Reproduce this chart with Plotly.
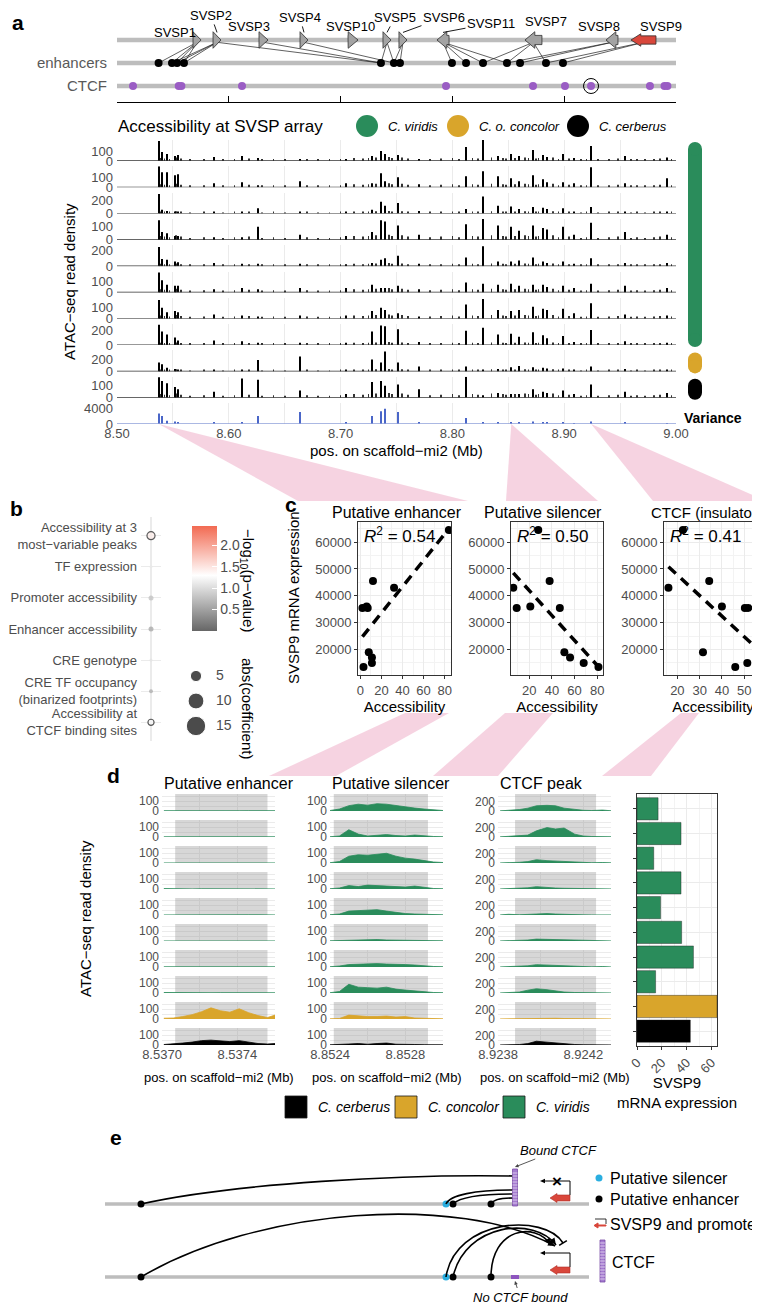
import numpy as np
import plotly.graph_objects as go

W, H = 760, 1305
TXT = "#4D4D4D"
GRID = "#EBEBEB"
GREEN, GOLD, BLACK = "#2A8C5B", "#D9A52B", "#000000"
PURPLE = "#9A5DC4"
RED = "#D9473B"
CYAN = "#2AAEE0"
PINK = "rgba(243, 196, 215, 0.75)"

# ---------------- panel a: SVSP array ----------------
gene_names = ["SVSP1", "SVSP2", "SVSP3", "SVSP4", "SVSP10", "SVSP5", "SVSP6",
              "SVSP11", "SVSP7", "SVSP8", "SVSP9"]
gene_start = [8.5680, 8.5859, 8.6270, 8.6637, 8.7066, 8.7379, 8.7522,
              8.7862, 8.8649, 8.9374, 8.9597]
gene_end = [8.5752, 8.5930, 8.6351, 8.6708, 8.7156, 8.7451, 8.7594,
            8.7970, 8.8801, 8.9481, 8.9821]
gene_strand = [1, 1, 1, 1, 1, 1, 1, -1, -1, -1, -1]
enhancer_pos = [8.5372, 8.5492, 8.5537, 8.5599, 8.7361, 8.7477, 8.7531,
                8.7996, 8.8122, 8.8274, 8.8488, 8.8605, 8.8837, 8.8989]
gene_enhancer_links = [
    ("SVSP1", 0), ("SVSP1", 1), ("SVSP1", 2), ("SVSP1", 3),
    ("SVSP2", 1), ("SVSP2", 2), ("SVSP2", 3), ("SVSP2", 4),
    ("SVSP3", 4), ("SVSP4", 5),
    ("SVSP5", 4), ("SVSP5", 5), ("SVSP6", 5), ("SVSP6", 6),
    ("SVSP11", 7), ("SVSP11", 8), ("SVSP11", 9), ("SVSP11", 10),
    ("SVSP7", 9), ("SVSP7", 10), ("SVSP7", 12),
    ("SVSP8", 10), ("SVSP8", 11),
    ("SVSP9", 12), ("SVSP9", 13),
]
ctcf_pos = [8.5143, 8.5552, 8.5576, 8.6118, 8.7943, 8.8721, 8.9007, 8.9240,
            8.9767, 8.9897, 8.9923]
bound_ctcf_pos = 8.9240

# ATAC peaks (Mb) and per-track heights
peak_pos = [8.5372, 8.5406, 8.5450, 8.5516, 8.5550, 8.5867, 8.6116, 8.6260,
            8.6634, 8.7050, 8.7280, 8.7357, 8.7400, 8.7510, 8.7700, 8.8125,
            8.8278, 8.8410, 8.8526, 8.8600, 8.8717, 8.8810, 8.8846, 8.8990,
            8.9090, 8.9240, 8.9540, 8.9920]
sig_v1 = [200, 90, 70, 50, 60, 40, 50, 30, 20, 20, 50, 100, 70, 60, 20, 140, 210, 50, 70, 50, 110, 60, 40, 70, 30, 150, 50, 35]
sig_v2 = [210, 150, 150, 120, 130, 40, 50, 20, 60, 40, 40, 140, 60, 100, 30, 110, 160, 110, 90, 60, 120, 80, 50, 50, 40, 200, 40, 90]
sig_v3 = [300, 60, 40, 20, 20, 30, 30, 80, 30, 30, 60, 180, 120, 160, 40, 70, 260, 120, 110, 70, 100, 90, 70, 80, 30, 100, 20, 30]
sig_v4 = [150, 60, 50, 30, 30, 20, 20, 100, 40, 30, 60, 150, 140, 110, 40, 120, 160, 110, 100, 70, 110, 90, 80, 100, 40, 130, 60, 40]
sig_v5 = [240, 90, 80, 60, 50, 40, 30, 30, 30, 20, 40, 80, 100, 130, 30, 110, 250, 60, 60, 70, 110, 60, 40, 60, 30, 100, 40, 40]
sig_v6 = [180, 110, 70, 60, 60, 30, 40, 30, 40, 40, 70, 40, 40, 60, 30, 90, 80, 70, 80, 60, 70, 70, 50, 60, 40, 80, 60, 40]
sig_v7 = [170, 100, 60, 70, 60, 40, 30, 20, 30, 30, 70, 100, 80, 50, 20, 130, 180, 80, 70, 80, 110, 90, 80, 90, 50, 140, 40, 30]
sig_v8 = [270, 180, 140, 100, 60, 60, 50, 30, 30, 30, 180, 260, 250, 210, 40, 190, 230, 140, 150, 110, 170, 130, 90, 120, 40, 200, 50, 30]
sig_concolor = [150, 120, 60, 40, 30, 20, 30, 190, 250, 30, 200, 150, 330, 150, 80, 80, 20, 40, 70, 90, 70, 60, 50, 50, 30, 80, 40, 30]
sig_cerberus = [170, 140, 120, 90, 70, 50, 160, 150, 60, 30, 130, 140, 100, 110, 70, 175, 20, 40, 30, 30, 70, 50, 40, 60, 30, 110, 50, 40]
sig_variance = [2600, 2000, 800, 600, 400, 300, 400, 2000, 3000, 300, 2000, 3200, 3800, 3000, 400, 1500, 300, 300, 500, 400, 600, 500, 300, 400, 200, 600, 300, 200]
track_signals = [sig_v1, sig_v2, sig_v3, sig_v4, sig_v5, sig_v6, sig_v7, sig_v8,
                 sig_concolor, sig_cerberus, sig_variance]
track_tick = [100, 100, 200, 100, 200, 100, 100, 200, 200, 100, 4000]
# small background peaks shared by the ten sample tracks (reads)
minor_peak_pos = [8.5385, 8.5425, 8.5470, 8.5530, 8.5575, 8.5650, 8.5780, 8.5950,
                  8.6050, 8.6180, 8.6300, 8.6400, 8.6500, 8.6700, 8.6800, 8.6900,
                  8.7000, 8.7120, 8.7200, 8.7250, 8.7320, 8.7430, 8.7460, 8.7550,
                  8.7600, 8.7800, 8.7900, 8.8000, 8.8060, 8.8180, 8.8230, 8.8350,
                  8.8450, 8.8480, 8.8560, 8.8650, 8.8680, 8.8750, 8.8770, 8.8900,
                  8.8950, 8.9040, 8.9150, 8.9200, 8.9300, 8.9400, 8.9480, 8.9600,
                  8.9650, 8.9720, 8.9800, 8.9860, 8.9960]
minor_peak_reads = [30, 25, 20, 35, 25, 15, 20, 15, 20, 25, 15, 20, 15, 20, 15, 15,
                    20, 30, 25, 30, 35, 40, 30, 35, 25, 20, 25, 30, 20, 30, 25, 35,
                    30, 25, 30, 35, 30, 25, 30, 35, 20, 25, 15, 20, 15, 20, 25, 15,
                    20, 15, 20, 25, 20]
species_top = ["C. viridis", "C. o. concolor", "C. cerberus"]

# ---------------- panel b ----------------
b_rows = ["Accessibility at 3<br>most\u2212variable peaks", "TF expression",
          "Promoter accessibility", "Enhancer accessibility", "CRE genotype",
          "CRE TF occupancy<br>(binarized footprints)",
          "Accessibility at<br>CTCF binding sites"]
b_neglog10p = [1.45, 1.10, 0.75, 0.50, 1.05, 0.55, 1.25]
b_abs_coef = [2.6, 0.36, 1.0, 1.0, 0.36, 0.64, 1.5]
b_outlined = [True, False, False, False, False, False, True]
b_size_legend = [5, 10, 15]

# ---------------- panels c / d ----------------
sample_species = ["viridis"] * 8 + ["concolor", "cerberus"]
svsp9_expr = [17000, 35500, 13500, 35500, 19000, 36000, 45500, 15000, 64500, 43000]
acc_enhancer = [11, 2, 3, 7, 8, 6, 12, 11, 84, 32]
acc_silencer = [56, 9, 81, 47, 51, 21, 38, 68, 28, 6]
acc_ctcf = [56, 50.3, 46, 51.8, 31.5, 40, 34.3, 51.4, 22.5, 16]
c_titles = ["Putative enhancer", "Putative silencer", "CTCF (insulator)"]
r2_labels = ["0.54", "0.50", "0.41"]

enh_x = [8.53701, 8.53706, 8.53711, 8.53716, 8.53721, 8.53726, 8.53731,
         8.53736, 8.53741, 8.53746, 8.53751, 8.53756, 8.53760]
sil_x = [8.85240, 8.85245, 8.85250, 8.85255, 8.85260, 8.85265, 8.85270,
         8.85275, 8.85280, 8.85285, 8.85290, 8.85295, 8.85300]
ctcf_x = [8.92381, 8.92385, 8.92390, 8.92394, 8.92398, 8.92403, 8.92407,
          8.92411, 8.92416, 8.92420, 8.92424, 8.92429, 8.92433]
enh_profiles = [
    [3, 2, 3, 4, 3, 2, 4, 3, 2, 3, 2, 2, 3],
    [2, 2, 3, 2, 4, 3, 5, 4, 2, 3, 2, 3, 2],
    [1, 1, 2, 1, 3, 1, 2, 3, 1, 1, 1, 1, 1],
    [4, 1, 1, 1, 2, 1, 1, 1, 2, 1, 1, 1, 1],
    [1, 2, 2, 1, 3, 2, 2, 3, 1, 2, 2, 2, 1],
    [1, 1, 1, 1, 1, 1, 1, 2, 1, 1, 1, 1, 1],
    [2, 2, 2, 3, 4, 3, 6, 3, 2, 2, 2, 2, 2],
    [5, 3, 2, 2, 3, 2, 3, 4, 2, 2, 3, 2, 2],
    [8, 10, 25, 45, 75, 115, 85, 70, 105, 65, 35, 15, 40],
    [5, 10, 20, 30, 45, 50, 40, 35, 45, 30, 15, 10, 15],
]
sil_profiles = [
    [5, 20, 55, 70, 60, 75, 70, 55, 40, 30, 20, 10, 5],
    [3, 10, 75, 30, 10, 20, 25, 15, 10, 20, 10, 5, 3],
    [3, 15, 70, 85, 80, 90, 100, 70, 50, 40, 25, 10, 5],
    [3, 10, 35, 25, 40, 35, 30, 25, 20, 30, 15, 5, 3],
    [3, 10, 40, 45, 45, 55, 40, 25, 15, 10, 5, 3, 2],
    [2, 5, 10, 8, 10, 15, 10, 8, 6, 5, 3, 2, 2],
    [3, 10, 25, 30, 30, 35, 30, 30, 25, 20, 10, 5, 3],
    [3, 15, 90, 60, 55, 50, 60, 40, 30, 20, 10, 5, 3],
    [2, 5, 40, 30, 25, 25, 30, 20, 25, 10, 5, 3, 2],
    [2, 3, 10, 15, 8, 15, 20, 8, 10, 5, 3, 2, 2],
]
ctcf_profiles = [
    [3, 10, 30, 60, 110, 120, 110, 60, 30, 15, 10, 20, 5],
    [3, 10, 25, 40, 130, 200, 170, 190, 60, 20, 10, 15, 5],
    [2, 5, 15, 30, 70, 50, 40, 30, 15, 10, 5, 10, 3],
    [2, 5, 10, 25, 50, 30, 20, 15, 10, 5, 3, 5, 2],
    [2, 15, 5, 10, 25, 30, 20, 10, 5, 3, 2, 3, 2],
    [2, 5, 10, 20, 40, 35, 25, 15, 10, 5, 3, 5, 2],
    [2, 5, 10, 25, 50, 40, 30, 15, 10, 5, 3, 10, 2],
    [2, 5, 20, 60, 90, 70, 40, 20, 10, 5, 3, 5, 2],
    [2, 5, 15, 20, 20, 15, 15, 10, 8, 5, 3, 3, 2],
    [2, 5, 10, 30, 80, 60, 45, 20, 10, 5, 3, 8, 2],
]
peak_regions = [(8.53707, 8.53756), (8.85242, 8.85292), (8.92388, 8.92426)]
d_titles = ["Putative enhancer", "Putative silencer", "CTCF peak"]
d_legend = [("C. cerberus", BLACK), ("C. concolor", GOLD), ("C. viridis", GREEN)]

species_color = {"viridis": GREEN, "concolor": GOLD, "cerberus": BLACK}

# ---------------- helpers ----------------
fig = go.Figure()
shapes, annos, axes = [], [], {}
n_ax = [0]


def X(p):
    return p / W


def Y(p):
    return 1 - p / H


def add_axes(x0, x1, y0, y1, xa, ya):
    n_ax[0] += 1
    s = "" if n_ax[0] == 1 else str(n_ax[0])
    base = dict(showgrid=False, zeroline=False, ticks="", fixedrange=True)
    axes["xaxis" + s] = {**base, **dict(domain=[X(x0), X(x1)], anchor="y" + s), **xa}
    axes["yaxis" + s] = {**base, **dict(domain=[Y(y1), Y(y0)], anchor="x" + s), **ya}
    return "x" + s, "y" + s


def text(x, y, t, size=13, color="black", xanchor="center", yanchor="middle", angle=0):
    annos.append(dict(x=X(x), y=Y(y), xref="paper", yref="paper", text=t,
                      showarrow=False, font=dict(size=size, color=color),
                      xanchor=xanchor, yanchor=yanchor, textangle=angle))


def poly_path(pts, paper=True):
    if paper:
        pts = [(X(a), Y(b)) for a, b in pts]
    return "M " + " L ".join(f"{a:.5f},{b:.5f}" for a, b in pts) + " Z"


def circle(cx, cy, d, color, line=None):
    shapes.append(dict(type="circle", xref="paper", yref="paper",
                       x0=X(cx - d / 2), x1=X(cx + d / 2), y0=Y(cy + d / 2), y1=Y(cy - d / 2),
                       fillcolor=color, line=dict(width=0.8 if line else 0, color=line or color)))


def ribbon(pts):
    shapes.append(dict(type="path", xref="paper", yref="paper", layer="below",
                       path=poly_path(pts), fillcolor=PINK, line=dict(width=0)))


# panel labels
for lab, (lx, ly) in zip("abcde", [(10, 15), (8, 500), (283, 497), (105, 767), (108, 1129)]):
    text(lx, ly, f"<b>{lab}</b>", size=21)

# ---------------- panel a: gene / enhancer / CTCF ----------------
A_X0, A_X1 = 109, 668


def mb_px(mb):
    return A_X0 + (mb - 8.5) / 0.5 * (A_X1 - A_X0)


gx, gy = add_axes(A_X0, A_X1, 20.5, 94.1,
                  dict(range=[8.5, 9.0], showline=True, linecolor="black", linewidth=1,
                       ticks="inside", ticklen=6, tickcolor="black",
                       tickvals=[8.5, 8.6, 8.7, 8.8, 8.9, 9.0], showticklabels=False),
                  dict(range=[2.7, -0.5], tickvals=[1, 2], ticktext=["enhancers", "CTCF"],
                       tickfont=dict(size=15, color="#595959"), ticklabelstandoff=9))
for r in range(3):
    shapes.append(dict(type="line", xref=f"{gx} domain", yref=gy, x0=0, x1=1, y0=r, y1=r,
                       line=dict(color="#BDBDBD", width=4.5), layer="below"))

center = {g: (s + e) / 2 for g, s, e in zip(gene_names, gene_start, gene_end)}
lx, ly = [], []
for g, k in gene_enhancer_links:
    lx += [center[g], enhancer_pos[k], None]
    ly += [0.1, 1, None]
fig.add_scatter(x=lx, y=ly, mode="lines", line=dict(color="rgba(30,30,30,0.7)", width=1),
                xaxis=gx, yaxis=gy, hoverinfo="skip")

for g, s, e, st in zip(gene_names, gene_start, gene_end, gene_strand):
    red = g == "SVSP9"
    head = min(e - s, 0.0088)
    hh, hb = (0.27, 0.18) if red else (0.36, 0.2)
    if st > 0:
        xs = [s, e - head, e - head, e, e - head, e - head, s, s]
    else:
        xs = [e, s + head, s + head, s, s + head, s + head, e, e]
    ys = [-hb, -hb, -hh, 0, hh, hb, hb, -hb]
    fig.add_scatter(x=xs, y=ys, mode="lines", fill="toself",
                    fillcolor=RED if red else "#A3A3A3",
                    line=dict(color="#2F2F2F", width=0.8), xaxis=gx, yaxis=gy, hoverinfo="skip")

fig.add_scatter(x=enhancer_pos, y=[1] * len(enhancer_pos), mode="markers",
                marker=dict(size=8, color="black"), xaxis=gx, yaxis=gy)
fig.add_scatter(x=ctcf_pos, y=[2] * len(ctcf_pos), mode="markers",
                marker=dict(size=8, color=PURPLE), xaxis=gx, yaxis=gy)
fig.add_scatter(x=[bound_ctcf_pos], y=[2], mode="markers",
                marker=dict(size=15, color="rgba(0,0,0,0)", line=dict(color="black", width=1)),
                xaxis=gx, yaxis=gy)

# gene labels: (ax, ay) leader offsets or (xshift, yshift) plain offsets
label_leader = {"SVSP2": (-6, -17), "SVSP4": (-4, -15), "SVSP5": (8, -15),
                "SVSP6": (41, -15), "SVSP11": (48, -9)}
label_shift = {"SVSP1": (-22, 8), "SVSP3": (-15, 14), "SVSP10": (-3, 14),
               "SVSP7": (13, 19), "SVSP8": (-13, 14), "SVSP9": (18, 14)}
for g in gene_names:
    if g in label_leader:
        ax_, ay_ = label_leader[g]
        annos.append(dict(x=center[g], y=-0.33, xref=gx, yref=gy, text=g, showarrow=True,
                          arrowhead=0, arrowwidth=0.9, arrowcolor="black", ax=ax_, ay=ay_,
                          font=dict(size=13, color="black")))
    else:
        xs_, ys_ = label_shift[g]
        annos.append(dict(x=center[g], y=0, xref=gx, yref=gy, text=g, showarrow=False,
                          xshift=xs_, yshift=ys_, font=dict(size=13, color="black")))

# ---------------- panel a: ATAC tracks ----------------
text(108, 118, "Accessibility at SVSP array", size=17, xanchor="left")
for name, col, cx in zip(species_top, [GREEN, GOLD, BLACK], [359, 450, 570]):
    circle(cx, 118, 22, col)
    text(cx + 19, 118, f"<i>{name}</i>", size=13, xanchor="left")

track_ymax = [210, 210, 320, 160, 262, 190, 190, 280, 350, 175, 5250]
base_px = [153 + 26.3 * i for i in range(11)]
grid_vals = [8.50, 8.55, 8.60, 8.65, 8.70, 8.75, 8.80, 8.85, 8.90, 8.95, 9.00]
grid_text = ["8.50", "", "8.60", "", "8.70", "", "8.80", "", "8.90", "", "9.00"]
for i, sig in enumerate(track_signals):
    b = base_px[i]
    col = "#4A66C8" if i == 10 else "black"
    tx, ty = add_axes(A_X0, A_X1, b - 21, b,
                      dict(range=[8.5, 9.0], tickvals=grid_vals, ticktext=grid_text,
                           showgrid=True, gridcolor=GRID, gridwidth=1,
                           showticklabels=(i == 10), tickfont=dict(size=13, color=TXT)),
                      dict(range=[0, track_ymax[i]], tickvals=[0, track_tick[i]],
                           tickfont=dict(size=13, color=TXT), ticklabelstandoff=3))
    if i < 10:
        fig.add_bar(x=minor_peak_pos, y=minor_peak_reads, width=0.0007,
                    marker=dict(color="#333333", line=dict(width=0)), xaxis=tx, yaxis=ty)
    fig.add_bar(x=peak_pos, y=sig, width=0.0009, marker=dict(color=col, line=dict(width=0)),
                xaxis=tx, yaxis=ty)
    shapes.append(dict(type="line", xref=f"{tx} domain", yref=ty, x0=0, x1=1, y0=0, y1=0,
                       line=dict(color="#333333" if i < 10 else "#8FA0DA", width=1.3)))

text(388, 442, "pos. on scaffold\u2212mi2 (Mb)", size=15)
text(62, 274, "ATAC\u2212seq read density", size=15, angle=-90)

# variance pills
for rows, col in [(range(0, 8), GREEN), (range(8, 9), GOLD), (range(9, 10), BLACK)]:
    top, bot = base_px[rows[0]] - 19, base_px[rows[-1]] + 2
    shapes.append(dict(type="rect", xref="paper", yref="paper", x0=X(680), x1=X(694),
                       y0=Y(bot - 7), y1=Y(top + 7), fillcolor=col, line=dict(width=0)))
    circle(687, top + 7, 14, col)
    circle(687, bot - 7, 14, col)
text(705, 410, "<b>Variance</b>", size=14)

# ---------------- panel b ----------------
bxa, bya = add_axes(133, 153, 509, 733,
                    dict(range=[-1, 1], zeroline=True, zerolinecolor=GRID, zerolinewidth=1.5,
                         showticklabels=False),
                    dict(range=[6.6, -0.6], tickvals=list(range(7)), ticktext=b_rows,
                         showgrid=True, gridcolor=GRID, tickfont=dict(size=13, color=TXT),
                         ticklabelstandoff=3))
fig.add_scatter(
    x=[0] * 7, y=list(range(7)), mode="markers", xaxis=bxa, yaxis=bya,
    marker=dict(size=[5 * np.sqrt(c) for c in b_abs_coef], color=b_neglog10p,
                colorscale=[[0, "#666666"], [0.53, "#FFFFFF"], [1, "#F26A52"]],
                cmin=0, cmax=2.45,
                line=dict(color=["#1A1A1A" if o else "rgba(0,0,0,0)" for o in b_outlined],
                          width=[1.2 if o else 0 for o in b_outlined]),
                colorbar=dict(x=X(174), xanchor="left", y=Y(570.5), yanchor="middle",
                              len=125, lenmode="pixels", thickness=25, outlinewidth=0,
                              tickvals=[0.5, 1, 1.5, 2], ticktext=["0.5", "1.0", "1.5", "2.0"],
                              ticks="inside", ticklen=5, tickcolor="white",
                              tickfont=dict(size=14, color=TXT))))
text(240, 572, "\u2212log<sub>10</sub>(p\u2212value)", size=15, angle=90)
text(240, 700, "abs(coefficient)", size=15, angle=90)
sxa, sya = add_axes(178, 230, 655, 730, dict(range=[0, 52], visible=False),
                    dict(range=[17.4, 2.4], visible=False))
fig.add_scatter(x=[10] * 3, y=b_size_legend, mode="markers", xaxis=sxa, yaxis=sya,
                marker=dict(size=[5 * np.sqrt(v) for v in b_size_legend], color="black"))
fig.add_scatter(x=[30] * 3, y=b_size_legend, mode="text", xaxis=sxa, yaxis=sya,
                text=[str(v) for v in b_size_legend], textposition="middle right",
                textfont=dict(size=14, color=TXT))

# ---------------- panel c ----------------
c_boxes = [(350, 443), (503, 595), (656, 754)]
C_TOP, C_BOT = 514, 667
c_xranges = [[-2.2, 86], [4, 85], [14, 58]]
c_dtick = [20, 20, 10]
acc_sets = [acc_enhancer, acc_silencer, acc_ctcf]
for k in range(3):
    x0, x1 = c_boxes[k]
    frame = dict(showline=True, mirror=True, linecolor="#333333", linewidth=1,
                 ticks="outside", ticklen=3, tickcolor="#333333",
                 tickfont=dict(size=13, color=TXT), showgrid=True, gridcolor=GRID)
    cx, cy = add_axes(x0, x1, C_TOP, C_BOT,
                      dict(range=c_xranges[k], tick0=0, dtick=c_dtick[k],
                           minor=dict(tick0=0, dtick=c_dtick[k] / 2, showgrid=True,
                                      gridcolor="#F3F3F3", gridwidth=0.7),
                           title=dict(text="Accessibility", font=dict(size=15, color="black"),
                                      standoff=2), **frame),
                      dict(range=[10500, 67500], tick0=0, dtick=10000, tickformat="d",
                           minor=dict(tick0=0, dtick=5000, showgrid=True,
                                      gridcolor="#F3F3F3", gridwidth=0.7), **frame))
    acc = acc_sets[k]
    fig.add_scatter(x=acc, y=svsp9_expr, mode="markers", xaxis=cx, yaxis=cy,
                    marker=dict(size=8, color="black"))
    slope, icpt = np.polyfit(acc, svsp9_expr, 1)
    xs = [min(acc), max(acc)]
    fig.add_scatter(x=xs, y=[slope * v + icpt for v in xs], mode="lines", xaxis=cx, yaxis=cy,
                    line=dict(color="black", width=3.5, dash="10px,7px"))
    annos.append(dict(x=0.04, y=0.915, xref=f"{cx} domain", yref=f"{cy} domain",
                      text=f"<i>R</i><sup>2</sup> = {r2_labels[k]}", showarrow=False,
                      xanchor="left", yanchor="middle", font=dict(size=17, color="black")))
text(389, 504, c_titles[0], size=16)
text(535, 504, c_titles[1], size=16)
text(756, 504, c_titles[2], size=15, xanchor="right")
text(285, 590, "SVSP9 mRNA expression", size=15, angle=-90)

# ---------------- panel d ----------------
d_cols = [(154, 267), (322, 435), (490, 603)]
d_ranges = [[8.53700, 8.53760], [8.85240, 8.85300], [8.92380, 8.92433]]
d_tickvals = [[8.5370, 8.5372, 8.5374, 8.5376], [8.8524, 8.8526, 8.8528, 8.8530],
              [8.9238, 8.9240, 8.9242, 8.9244]]
d_ymax = [175, 175, 360]
d_ylab = [100, 100, 200]
D_BASE0, D_STEP, D_H = 803, 26, 17
d_x = [enh_x, sil_x, ctcf_x]
d_profiles = [enh_profiles, sil_profiles, ctcf_profiles]

for c in range(3):
    x0, x1 = d_cols[c]
    tv = d_tickvals[c]
    r0, r1 = peak_regions[c]
    for r in range(10):
        b = D_BASE0 + D_STEP * r
        col = species_color[sample_species[r]]
        yl = d_ylab[c]
        dx, dy = add_axes(x0, x1, b - D_H, b,
                          dict(range=d_ranges[c], tickvals=tv,
                               ticktext=[f"{tv[0]:.4f}", "", f"{tv[2]:.4f}", ""],
                               showgrid=True, gridcolor=GRID, showticklabels=(r == 9),
                               tickfont=dict(size=13, color=TXT)),
                          dict(range=[0, d_ymax[c]], tickvals=[0, yl / 2, yl, yl * 1.5],
                               ticktext=["0", "", str(yl), ""], showgrid=True, gridcolor=GRID,
                               tickfont=dict(size=12, color=TXT), ticklabelstandoff=2))
        # shaded peak region (drawn as a trace so the grid shows through)
        fig.add_scatter(x=[r0, r1, r1, r0, r0], y=[0, 0, d_ymax[c], d_ymax[c], 0],
                        mode="lines", fill="toself", fillcolor="rgba(150,150,150,0.38)",
                        line=dict(width=0), xaxis=dx, yaxis=dy, hoverinfo="skip")
        fig.add_scatter(x=d_x[c], y=d_profiles[c][r], mode="lines", fill="tozeroy",
                        fillcolor=col, line=dict(color=col, width=0.8), xaxis=dx, yaxis=dy)
    text(x0, 775, d_titles[c], size=16, xanchor="left")
    text((x0 + x1) / 2, 1069, "pos. on scaffold\u2212mi2 (Mb)", size=13)
text(77, 911, "ATAC\u2212seq read density", size=15, angle=-90)

# SVSP9 expression bars
qx, qy = add_axes(629, 709, 786, 1038,
                  dict(range=[0, 64.5], tickvals=[0, 20, 40, 60], tickangle=-45,
                       ticks="outside", ticklen=3, tickcolor="#333333",
                       tickfont=dict(size=13, color=TXT), showgrid=True, gridcolor=GRID,
                       minor=dict(tick0=0, dtick=10, showgrid=True, gridcolor="#F3F3F3"),
                       showline=True, mirror=True, linecolor="#333333", linewidth=1),
                  dict(range=[9.6, -0.6], tickvals=list(range(10)), showticklabels=False,
                       ticks="outside", ticklen=3, tickcolor="#333333", showgrid=True,
                       gridcolor=GRID, showline=True, mirror=True, linecolor="#333333",
                       linewidth=1))
fig.add_bar(y=list(range(10)), x=[v / 1000 for v in svsp9_expr], orientation="h", width=0.9,
            marker=dict(color=[species_color[s] for s in sample_species],
                        line=dict(color="#1A1A1A", width=0.4)), xaxis=qx, yaxis=qy)
text(669, 1064, "SVSP9<br>mRNA expression", size=15, yanchor="top")

# d legend
for (name, col), lx0 in zip(d_legend, [277, 387, 495]):
    shapes.append(dict(type="rect", xref="paper", yref="paper", x0=X(lx0), x1=X(lx0 + 22),
                       y0=Y(1110), y1=Y(1088), fillcolor=col,
                       line=dict(color="#1A1A1A", width=0.8)))
    text(lx0 + 31, 1099, f"<i>{name}</i>", size=14, xanchor="left")

# ---------------- pink ribbons a -> c -> d ----------------
# upper: from the peak on the track to the top of each scatter panel
A_BOTTOM = base_px[-1]
upper_target = [(290, 460), (498, 590), (645, 758)]
for k in range(3):
    apex = mb_px(sum(peak_regions[k]) / 2)
    t0, t1 = upper_target[k]
    ribbon([(apex, A_BOTTOM), (t0, 493), (t1, 493)])
# lower: from under each scatter panel to the top of the matching track column
lower_top = [(397, 441), (497, 545), (673, 691)]
lower_bot = [(261, 328), (425, 490), (594, 643)]
for k in range(3):
    (a0, a1), (b0, b1) = lower_top[k], lower_bot[k]
    ribbon([(a0, 705), (a1, 705), (b1, 768), (b0, 768)])

# ---------------- panel e: schematic ----------------
ex, ey = add_axes(97, 760, 1130, 1305, dict(range=[0, 663], visible=False),
                  dict(range=[0, 175], visible=False))
e_track_y = {"bound": 109, "unbound": 36}
e_line_end = 484
e_far, e_sil, e_enh2, e_enh3 = 36, 341, 348, 386
e_ctcf = 410
e_gene = (445, 465)


def ebez(p0, p1, p2, p3, color="black"):
    shapes.append(dict(type="path", xref=ex, yref=ey,
                       path=f"M {p0[0]},{p0[1]} C {p1[0]},{p1[1]} {p2[0]},{p2[1]} {p3[0]},{p3[1]}",
                       line=dict(color=color, width=1.6)))


def ehead(p2, p3, size=7, bar=False):
    dx, dy = p3[0] - p2[0], p3[1] - p2[1]
    L = np.hypot(dx, dy)
    ux, uy = dx / L, dy / L
    nx, ny = -uy, ux
    if bar:
        shapes.append(dict(type="line", xref=ex, yref=ey,
                           x0=p3[0] + nx * 4.5, y0=p3[1] + ny * 4.5,
                           x1=p3[0] - nx * 4.5, y1=p3[1] - ny * 4.5,
                           line=dict(color="black", width=1.6)))
        return
    bx0, by0 = p3[0] - ux * size, p3[1] - uy * size
    pts = [p3, (bx0 + nx * size * 0.45, by0 + ny * size * 0.45),
           (bx0 - nx * size * 0.45, by0 - ny * size * 0.45)]
    shapes.append(dict(type="path", xref=ex, yref=ey, path=poly_path(pts, paper=False),
                       fillcolor="black", line=dict(width=0)))


def ctcf_bar(x0, x1, y0, y1, xref, yref, step):
    shapes.append(dict(type="rect", xref=xref, yref=yref, x0=x0, x1=x1, y0=y0, y1=y1,
                       fillcolor="#A57BD0", line=dict(color="#7A4DA6", width=0.8)))
    yy = y0 + step
    while yy < y1 - step / 2:
        shapes.append(dict(type="line", xref=xref, yref=yref, x0=x0, x1=x1, y0=yy, y1=yy,
                           line=dict(color="rgba(255,255,255,0.75)", width=0.8)))
        yy += step


def gene_arrow(yc):
    g0, g1 = e_gene
    pts = [(g1, yc - 3), (g0 + 7, yc - 3), (g0 + 7, yc - 4.5), (g0, yc), (g0 + 7, yc + 4.5),
           (g0 + 7, yc + 3), (g1, yc + 3)]
    shapes.append(dict(type="path", xref=ex, yref=ey, path=poly_path(pts, paper=False),
                       fillcolor=RED, line=dict(color="#B03028", width=0.6)))
    top = yc + 17
    shapes.append(dict(type="path", xref=ex, yref=ey,
                       path=f"M {g1},{yc + 3} L {g1},{top} L {g0 - 8},{top}",
                       line=dict(color="black", width=1)))
    ehead((g1, top), (g0 - 10, top), size=5)
    return top


for ty_ in e_track_y.values():
    shapes.append(dict(type="line", xref=ex, yref=ey, x0=0, x1=e_line_end, y0=ty_, y1=ty_,
                       line=dict(color="#BDBDBD", width=3.5), layer="below"))

yb, yu = e_track_y["bound"], e_track_y["unbound"]
# bound: loops stop at CTCF
ebez((e_far, yb), (130, yb + 21), (300, yb + 30), (e_ctcf - 2, yb + 28))
ebez((e_sil, yb), (345, yb + 9), (370, yb + 14), (e_ctcf - 2, yb + 14))
ebez((e_enh2, yb), (355, yb + 7), (380, yb + 10), (e_ctcf - 2, yb + 10))
ebez((e_enh3, yb), (388, yb + 4), (395, yb + 6), (e_ctcf - 2, yb + 6))
ctcf_bar(e_ctcf - 2.5, e_ctcf + 2.5, yb - 2, yb + 35, ex, ey, 3)
top_b = gene_arrow(yb + 6)
annos.append(dict(x=(e_gene[0] + e_gene[1]) / 2 - 3, y=top_b, xref=ex, yref=ey,
                  text="<b>\u00d7</b>", showarrow=False, font=dict(size=17, color="black")))
annos.append(dict(x=e_ctcf, y=yb + 37, xref=ex, yref=ey, text="<i>Bound CTCF</i>",
                  showarrow=True, arrowhead=2, arrowsize=0.8, arrowwidth=0.9, ax=43, ay=-17,
                  font=dict(size=13, color="black")))

# unbound: loops reach the promoter
arcs = [((e_far, yu), (153, yu + 69), (353, yu + 84), (450, yu + 31), False),
        ((e_sil, yu), (350, yu + 59), (440, yu + 64), (458, yu + 34), True),
        ((e_enh2, yu), (360, yu + 54), (430, yu + 61), (451, yu + 32), False),
        ((e_enh3, yu), (386, yu + 49), (430, yu + 56), (446, yu + 32), False)]
for p0, p1, p2, p3, bar in arcs:
    ebez(p0, p1, p2, p3)
    ehead(p2, p3, bar=bar)
shapes.append(dict(type="rect", xref=ex, yref=ey, x0=e_ctcf - 4, x1=e_ctcf + 4,
                   y0=yu - 2, y1=yu + 2, fillcolor="#8E55BF", line=dict(width=0)))
gene_arrow(yu + 7)
annos.append(dict(x=e_ctcf, y=yu - 4, xref=ex, yref=ey, text="<i>No CTCF bound</i>",
                  showarrow=True, arrowhead=2, arrowsize=0.8, arrowwidth=0.9, ax=5, ay=16,
                  font=dict(size=13, color="black")))

for yy in (yb, yu):
    fig.add_scatter(x=[e_far, e_enh2, e_enh3], y=[yy] * 3, mode="markers",
                    marker=dict(size=7, color="black"), xaxis=ex, yaxis=ey)
    fig.add_scatter(x=[e_sil], y=[yy], mode="markers", marker=dict(size=7, color=CYAN),
                    xaxis=ex, yaxis=ey)

# e legend
circle(591, 1170, 7, CYAN)
circle(591, 1191, 7, "black")
text(600, 1170, "Putative silencer", size=16, xanchor="left")
text(600, 1191, "Putative enhancer", size=16, xanchor="left")
shapes.append(dict(type="path", xref="paper", yref="paper",
                   path=poly_path([(598, 1218), (590, 1218), (590, 1220), (586, 1217.5),
                                   (590, 1215), (590, 1217), (598, 1217)]),
                   fillcolor=RED, line=dict(color=RED, width=1)))
shapes.append(dict(type="path", xref="paper", yref="paper",
                   path=f"M {X(598)},{Y(1216)} L {X(598)},{Y(1211)} L {X(587)},{Y(1211)}",
                   line=dict(color="black", width=0.8)))
text(600, 1216, "SVSP9 and promoter", size=16, xanchor="left")
ctcf_bar(X(592), X(597), Y(1274), Y(1232), "paper", "paper", 3 / H)
text(602, 1254, "CTCF", size=16, xanchor="left")

fig.update_layout(
    width=W, height=H, margin=dict(l=0, r=0, t=0, b=0), template="none",
    paper_bgcolor="white", plot_bgcolor="white", showlegend=False, barmode="overlay",
    font=dict(family="Liberation Sans, Arial, sans-serif", color="black"),
    shapes=shapes, annotations=annos, **axes)
fig.write_html("out.html")
